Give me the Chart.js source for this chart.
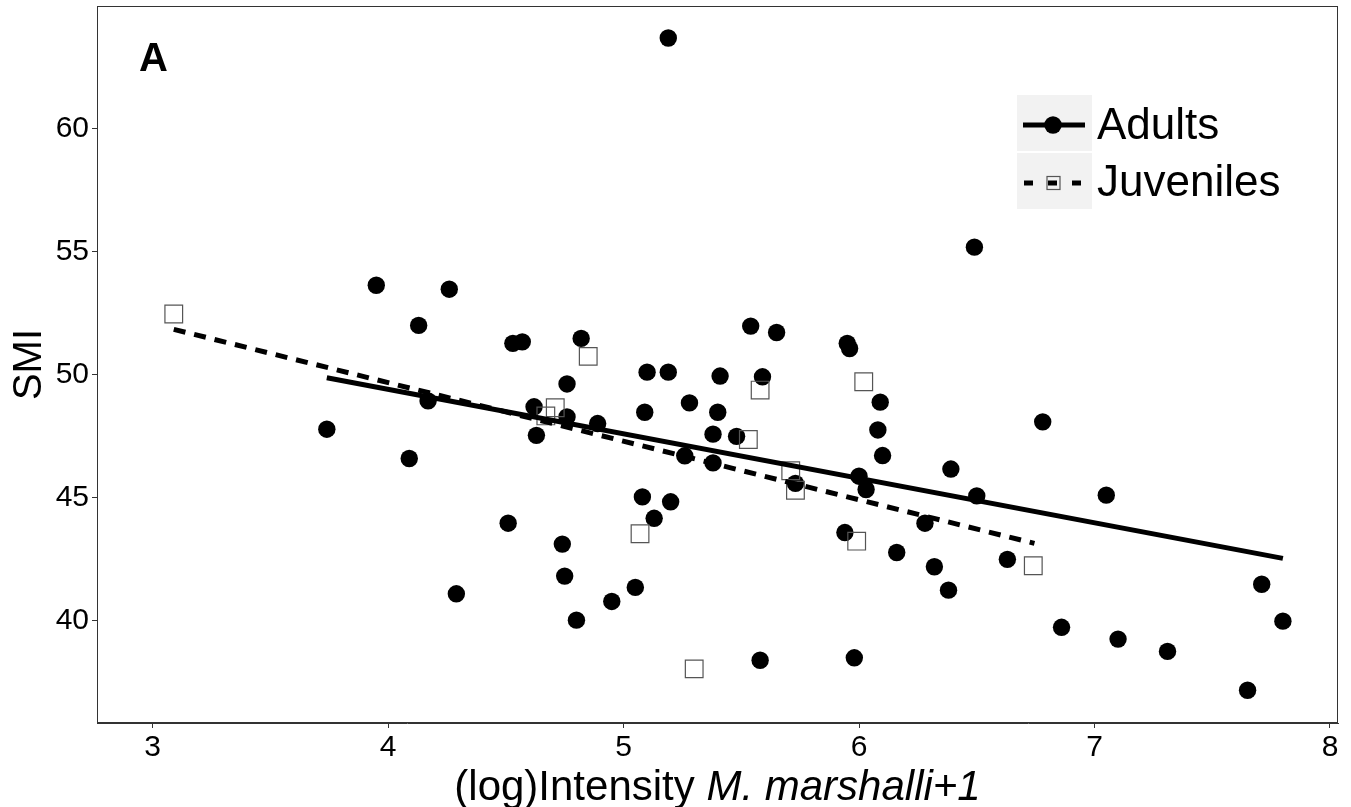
<!DOCTYPE html>
<html>
<head>
<meta charset="utf-8">
<script src="https://cdn.jsdelivr.net/npm/chart.js@4/dist/chart.umd.min.js"></script>
<style>
  html, body { margin: 0; padding: 0; background: #fff; }
  #wrap { width: 1351px; height: 807px; }
</style>
</head>
<body>
<div id="wrap"><canvas id="myChart" width="1351" height="807"></canvas></div>
<script>
// adults: filled circles
const adultsX = [5.19, 3.95, 4.26, 4.13, 4.53, 4.57, 4.82, 5.54, 5.65, 5.95, 5.96, 5.10, 5.19, 5.41, 5.59,
  4.76, 4.17, 3.74, 4.09, 4.62, 4.63, 4.76, 4.89, 5.09, 5.28, 5.40, 5.38, 5.48, 5.26, 5.38,
  6.09, 6.08, 6.10, 6.00, 6.03, 5.73, 6.39, 6.50, 6.49, 6.78, 7.05, 5.08, 5.13, 5.20, 4.51,
  5.94, 6.28, 6.16, 6.32, 6.38, 6.63, 4.74, 4.75, 4.29, 4.80, 4.95, 5.05, 5.58, 5.98, 6.86,
  7.10, 7.31, 7.65, 7.71, 7.80];
const adultsY = [63.69, 53.64, 53.48, 52.01, 51.28, 51.34, 51.48, 51.98, 51.72, 51.28, 51.07, 50.11, 50.11, 49.95, 49.92,
  49.63, 48.94, 47.79, 46.60, 48.70, 47.54, 48.29, 48.02, 48.48, 48.86, 48.48, 47.59, 47.50, 46.71, 46.42,
  48.89, 47.76, 46.72, 45.88, 45.34, 45.59, 46.17, 45.08, 55.19, 48.09, 45.11, 45.04, 44.17, 44.84, 43.97,
  43.59, 43.97, 42.78, 42.20, 41.25, 42.50, 43.12, 41.82, 41.10, 40.03, 40.79, 41.36, 38.40, 38.50, 39.74,
  39.26, 38.76, 37.18, 41.49, 39.99];

// juveniles: open squares
const juvX = [3.09, 4.85, 4.71, 4.67, 5.58, 5.53, 5.71, 5.73, 5.07, 5.30, 6.02, 5.99, 6.74];
const juvY = [52.47, 50.75, 48.66, 48.33, 49.38, 47.37, 46.10, 45.31, 43.54, 38.05, 49.72, 43.24, 42.24];

// fitted lines (end points)
const fitAdultsX = [3.74, 7.80];
const fitAdultsY = [49.88, 42.54];
const fitJuvX = [3.09, 6.745];
const fitJuvY = [51.85, 43.15];

const xTicks = [3, 4, 5, 6, 7, 8];
const yTicks = [40, 45, 50, 55, 60];
const seriesLabels = ['Adults', 'Juveniles'];

const FONT = '"Liberation Sans", Arial, Helvetica, sans-serif';
Chart.defaults.font.family = FONT;

const toPts = (xs, ys) => xs.map((x, i) => ({ x: x, y: ys[i] }));

// frame, panel letter, x title with italic part, legend
const extras = {
    id: 'extras',
    afterDraw(chart) {
        const ctx = chart.ctx;
        const a = chart.chartArea;
        ctx.save();
        ctx.strokeStyle = '#333';
        ctx.lineWidth = 1;
        ctx.strokeRect(a.left + 0.5, a.top + 0.5, a.right - a.left - 1, a.bottom - a.top - 1);

        ctx.fillStyle = '#000';
        ctx.textBaseline = 'alphabetic';
        ctx.textAlign = 'left';
        ctx.font = 'bold 40px ' + FONT;
        ctx.fillText('A', a.left + 42, 71);

        // x axis title
        const p1 = '(log)Intensity ';
        const p2 = 'M. marshalli+1';
        ctx.font = '42px ' + FONT;
        const w1 = ctx.measureText(p1).width;
        ctx.font = 'italic 42px ' + FONT;
        const w2 = ctx.measureText(p2).width;
        const x0 = (a.left + a.right) / 2 - (w1 + w2) / 2;
        ctx.font = '42px ' + FONT;
        ctx.fillText(p1, x0, 800);
        ctx.font = 'italic 42px ' + FONT;
        ctx.fillText(p2, x0 + w1, 800);

        // legend
        const kx = 1017, kw = 75, kh = 56;
        const tops = [95, 153];
        tops.forEach((t) => {
            ctx.fillStyle = '#f2f2f2';
            ctx.fillRect(kx, t, kw, kh);
        });
        // adults key
        let cy = 125;
        ctx.strokeStyle = '#000';
        ctx.lineWidth = 5;
        ctx.beginPath();
        ctx.moveTo(kx + 6, cy);
        ctx.lineTo(kx + 68, cy);
        ctx.stroke();
        ctx.fillStyle = '#000';
        ctx.beginPath();
        ctx.arc(kx + 36, cy, 8.7, 0, Math.PI * 2);
        ctx.fill();
        // juveniles key
        cy = 183;
        ctx.setLineDash([9, 15]);
        ctx.beginPath();
        ctx.moveTo(kx + 7, cy);
        ctx.lineTo(kx + 66, cy);
        ctx.stroke();
        ctx.setLineDash([]);
        ctx.strokeStyle = '#555';
        ctx.lineWidth = 1.2;
        ctx.strokeRect(kx + 30, cy - 6.5, 13, 13);

        ctx.fillStyle = '#000';
        ctx.font = '44px ' + FONT;
        ctx.textBaseline = 'middle';
        ctx.fillText(seriesLabels[0], 1097, 127);
        ctx.fillText(seriesLabels[1], 1097, 184);
        ctx.restore();
    }
};

const ctx1 = document.getElementById('myChart').getContext('2d');
const myChart = new Chart(ctx1, {
    type: 'scatter',
    data: {
        datasets: [{
            label: 'Adults fit',
            data: toPts(fitAdultsX, fitAdultsY),
            showLine: true,
            borderColor: '#000',
            borderWidth: 5,
            pointRadius: 0,
            order: 1
        }, {
            label: 'Juveniles fit',
            data: toPts(fitJuvX, fitJuvY),
            showLine: true,
            borderColor: '#000',
            borderWidth: 5,
            borderDash: [12, 9],
            pointRadius: 0,
            order: 0
        }, {
            label: seriesLabels[0],
            data: toPts(adultsX, adultsY),
            pointStyle: 'circle',
            pointRadius: 8.7,
            backgroundColor: '#000',
            borderWidth: 0,
            order: 3
        }, {
            label: seriesLabels[1],
            data: toPts(juvX, juvY),
            pointStyle: 'rect',
            pointRadius: 12.5,
            backgroundColor: 'rgba(0,0,0,0)',
            borderColor: '#555',
            borderWidth: 1.2,
            order: 2
        }]
    },
    options: {
        responsive: false,
        animation: false,
        events: [],
        layout: { autoPadding: false, padding: { top: 6, right: 13, left: 0, bottom: 0 } },
        plugins: {
            legend: { display: false },
            tooltip: { enabled: false }
        },
        scales: {
            x: {
                type: 'linear',
                min: 2.764,
                max: 8.034,
                afterBuildTicks: (s) => { s.ticks = xTicks.map(v => ({ value: v })); },
                afterFit: (s) => { s.height = 84; s.paddingLeft = 0; s.paddingRight = 0; },
                grid: { drawOnChartArea: false, drawTicks: true, tickLength: 5, color: '#333' },
                border: { color: '#333', width: 1 },
                ticks: { font: { size: 30 }, color: '#000', padding: 2 }
            },
            y: {
                type: 'linear',
                min: 35.85,
                max: 64.99,
                afterBuildTicks: (s) => { s.ticks = yTicks.map(v => ({ value: v })); },
                afterFit: (s) => { s.width = 97; s.paddingTop = 0; s.paddingBottom = 0; },
                grid: { drawOnChartArea: false, drawTicks: true, tickLength: 5, color: '#333' },
                border: { color: '#333', width: 1 },
                ticks: { font: { size: 30 }, color: '#000', padding: 3 },
                title: {
                    display: true,
                    text: 'SMI',
                    color: '#000',
                    font: { size: 40 },
                    padding: { top: 6, bottom: 0 }
                }
            }
        }
    },
    plugins: [extras]
});
</script>
</body>
</html>
